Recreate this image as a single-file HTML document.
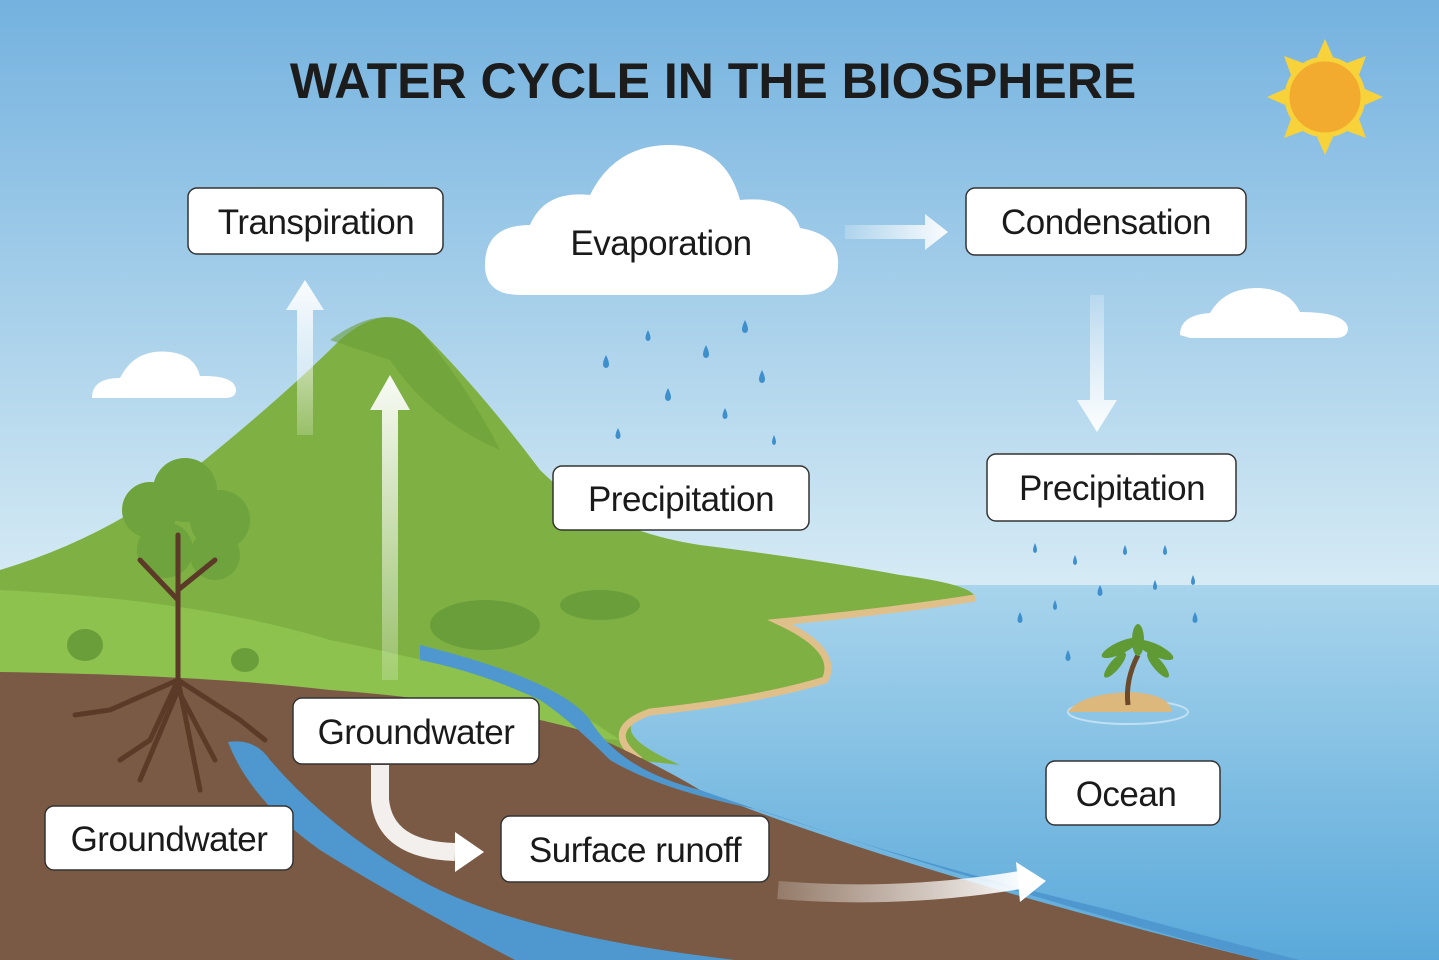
<!DOCTYPE html>
<html><head><meta charset="utf-8"><style>
html,body{margin:0;padding:0;width:1439px;height:960px;overflow:hidden}
svg{display:block}
.t{font-family:"Liberation Sans",sans-serif;font-size:35px;fill:#1a1a1a;text-anchor:middle;letter-spacing:-0.5px}
.b{fill:#fff;stroke:#333;stroke-width:1.5}
</style></head><body>
<svg width="1439" height="960" viewBox="0 0 1439 960" xmlns="http://www.w3.org/2000/svg">
<defs>
<linearGradient id="sky" x1="0" y1="0" x2="0" y2="1"><stop offset="0" stop-color="#74b2df"/><stop offset="1" stop-color="#d8ecf5"/></linearGradient>
<linearGradient id="sea" x1="0" y1="0" x2="0" y2="1"><stop offset="0" stop-color="#a8d4ec"/><stop offset="1" stop-color="#5aa9da"/></linearGradient>
<linearGradient id="arU" x1="0" y1="1" x2="0" y2="0"><stop offset="0" stop-color="#fff" stop-opacity="0.2"/><stop offset="1" stop-color="#fff" stop-opacity="0.95"/></linearGradient>
<linearGradient id="arR" x1="0" y1="0" x2="1" y2="0"><stop offset="0" stop-color="#fff" stop-opacity="0.2"/><stop offset="1" stop-color="#fff" stop-opacity="0.95"/></linearGradient>
<linearGradient id="arD" x1="0" y1="0" x2="0" y2="1"><stop offset="0" stop-color="#fff" stop-opacity="0.2"/><stop offset="1" stop-color="#fff" stop-opacity="0.95"/></linearGradient>
</defs>
<rect width="1439" height="600" fill="url(#sky)"/>
<rect y="585" width="1439" height="375" fill="url(#sea)"/>
<path d="M0,570 Q100,540 180,480 Q280,400 340,340 Q385,300 420,330 Q480,390 540,470 Q600,530 700,545 Q820,560 900,575 Q975,585 975,598 Q900,610 780,622 Q840,650 825,680 Q760,700 650,712 Q600,730 680,765 L0,690 Z" fill="#7fb043"/>
<path d="M0,590 Q200,600 330,640 Q480,670 560,700 L620,740 L0,700 Z" fill="#8cc24d"/>
<path d="M330,340 Q385,300 420,330 Q470,390 500,450 Q430,420 390,360 Z" fill="#6a9e3a" opacity="0.6"/>
<path d="M975,598 Q900,610 780,622 Q840,650 825,680 Q760,700 650,712 Q600,730 640,760" fill="none" stroke="#e0c08a" stroke-width="7"/>
<path d="M0,672 Q200,675 330,690 Q470,700 580,730 Q650,760 700,790 Q900,870 1260,960 L0,960 Z" fill="#7a5a44"/>
<path d="M420,645 Q560,680 590,720 Q620,770 700,790 Q900,860 1110,910 Q1200,935 1300,960 L1260,960 Q1000,890 760,810 Q660,790 610,760 Q570,720 540,700 Q480,672 420,660 Z" fill="#4e98cf"/>
<path d="M228,742 Q255,738 270,760 Q330,830 420,880 Q520,935 735,960 L515,960 Q400,900 320,850 Q250,800 228,742 Z" fill="#4e98cf"/>
<g fill="#6fa33d"><circle cx="150" cy="510" r="28"/><circle cx="185" cy="490" r="32"/><circle cx="220" cy="520" r="30"/><circle cx="165" cy="550" r="28"/><circle cx="215" cy="555" r="25"/></g>
<g stroke="#5b3a28" stroke-width="5" fill="none" stroke-linecap="round"><path d="M178,535 L178,690"/><path d="M178,600 L140,560"/><path d="M178,590 L215,560"/><path d="M178,680 L110,710 L75,715"/><path d="M178,680 L150,740 L120,760"/><path d="M178,680 L200,790"/><path d="M178,680 L240,720 L265,740"/><path d="M178,690 L140,780"/><path d="M178,690 L215,760"/></g>
<ellipse cx="485" cy="625" rx="55" ry="25" fill="#6a9e3a"/><ellipse cx="600" cy="605" rx="40" ry="15" fill="#6a9e3a"/>
<ellipse cx="85" cy="645" rx="18" ry="16" fill="#6a9e3a"/><ellipse cx="245" cy="660" rx="14" ry="12" fill="#6a9e3a"/>
<ellipse cx="1128" cy="712" rx="60" ry="12" fill="none" stroke="#bfe0f2" stroke-width="2"/>
<path d="M1068,712 Q1080,694 1130,692 Q1170,694 1172,712 Z" fill="#dcb87c"/>
<path d="M1128,705 Q1125,680 1138,655" stroke="#6b4a2c" stroke-width="5" fill="none"/>
<g fill="#5f9a34"><ellipse cx="1120" cy="648" rx="20" ry="6" transform="rotate(-25 1120 648)"/><ellipse cx="1155" cy="650" rx="20" ry="6" transform="rotate(25 1155 650)"/><ellipse cx="1138" cy="640" rx="6" ry="16"/><ellipse cx="1158" cy="665" rx="16" ry="5" transform="rotate(50 1158 665)"/><ellipse cx="1115" cy="665" rx="16" ry="5" transform="rotate(-50 1115 665)"/></g>
<path d="M485,265 Q485,225 530,225 Q545,190 590,195 Q615,145 670,145 Q725,145 740,200 Q790,195 800,228 Q840,235 838,265 Q838,295 800,295 L520,295 Q485,295 485,265 Z" fill="#fff"/>
<path d="M92,398 Q92,378 120,378 Q135,348 170,352 Q195,355 200,376 Q235,375 236,390 Q236,398 225,398 Z" fill="#fff"/>
<path d="M1180,335 Q1180,315 1210,313 Q1225,287 1260,288 Q1290,290 1300,312 Q1345,312 1348,328 Q1348,338 1335,338 L1190,338 Z" fill="#fff"/>
<g transform="translate(1325,97)"><g fill="#f7d23a"><polygon points="0,-58 8,-40 -8,-40"/><polygon points="0,58 8,40 -8,40"/><polygon points="-58,0 -40,8 -40,-8"/><polygon points="58,0 40,8 40,-8"/><polygon points="41,-41 22,-34 34,-22"/><polygon points="-41,41 -22,34 -34,22"/><polygon points="41,41 22,34 34,22"/><polygon points="-41,-41 -22,-34 -34,-22"/></g><circle r="38" fill="#f2aa2f" stroke="#f7d23a" stroke-width="5"/></g>
<g fill="#3f8fcd">
<path d="M606,355 q-6,12 0,13 q6,-1 0,-13z"/><path d="M648,330 q-5,10 0,11 q5,-1 0,-11z"/><path d="M706,345 q-6,12 0,13 q6,-1 0,-13z"/><path d="M745,320 q-6,12 0,13 q6,-1 0,-13z"/><path d="M668,388 q-6,12 0,13 q6,-1 0,-13z"/><path d="M762,370 q-6,12 0,13 q6,-1 0,-13z"/><path d="M618,428 q-5,10 0,11 q5,-1 0,-11z"/><path d="M725,408 q-5,10 0,11 q5,-1 0,-11z"/><path d="M774,435 q-4,9 0,10 q4,-1 0,-10z"/>
<path d="M1035,543 q-4,9 0,10 q4,-1 0,-10z"/><path d="M1075,555 q-4,9 0,10 q4,-1 0,-10z"/><path d="M1125,545 q-4,9 0,10 q4,-1 0,-10z"/><path d="M1165,545 q-4,9 0,10 q4,-1 0,-10z"/><path d="M1100,585 q-5,10 0,11 q5,-1 0,-11z"/><path d="M1155,580 q-4,9 0,10 q4,-1 0,-10z"/><path d="M1193,575 q-4,9 0,10 q4,-1 0,-10z"/><path d="M1055,600 q-4,9 0,10 q4,-1 0,-10z"/><path d="M1020,612 q-5,10 0,11 q5,-1 0,-11z"/><path d="M1195,612 q-5,10 0,11 q5,-1 0,-11z"/><path d="M1068,650 q-5,10 0,11 q5,-1 0,-11z"/>
</g>
<path d="M297,435 L297,310 L286,310 L305,280 L324,310 L313,310 L313,435 Z" fill="url(#arU)"/>
<path d="M382,680 L382,410 L370,410 L390,375 L410,410 L398,410 L398,680 Z" fill="url(#arU)"/>
<path d="M845,225 L925,225 L925,214 L948,232 L925,250 L925,239 L845,239 Z" fill="url(#arR)"/>
<path d="M1090,295 L1090,400 L1077,400 L1097,432 L1117,400 L1104,400 L1104,295 Z" fill="url(#arD)"/>
<path d="M380,765 L380,800 Q385,850 455,852" stroke="#fff" stroke-width="18" fill="none" opacity="0.9"/>
<path d="M455,832 L484,852 L455,872 Z" fill="#fff"/>
<path d="M778,890 Q900,900 1020,880" stroke="url(#arR)" stroke-width="18" fill="none"/>
<path d="M1016,862 L1046,881 L1020,902 Z" fill="#fff"/>
<text x="713" y="98" font-family="Liberation Sans,sans-serif" font-weight="bold" font-size="50" fill="#1c1c1c" text-anchor="middle">WATER CYCLE IN THE BIOSPHERE</text>
<rect class="b" x="188" y="188" width="255" height="66" rx="9"/><text class="t" x="316" y="234">Transpiration</text>
<text class="t" x="661" y="255">Evaporation</text>
<rect class="b" x="966" y="188" width="280" height="67" rx="9"/><text class="t" x="1106" y="234">Condensation</text>
<rect class="b" x="553" y="466" width="256" height="64" rx="9"/><text class="t" x="681" y="511">Precipitation</text>
<rect class="b" x="987" y="454" width="249" height="67" rx="9"/><text class="t" x="1112" y="500">Precipitation</text>
<rect class="b" x="293" y="698" width="246" height="66" rx="9"/><text class="t" x="416" y="744">Groundwater</text>
<rect class="b" x="45" y="806" width="248" height="64" rx="9"/><text class="t" x="169" y="851">Groundwater</text>
<rect class="b" x="501" y="816" width="268" height="66" rx="9"/><text class="t" x="635" y="862">Surface runoff</text>
<rect class="b" x="1046" y="761" width="174" height="64" rx="9"/><text class="t" x="1126" y="806">Ocean</text>
</svg>
</body></html>
